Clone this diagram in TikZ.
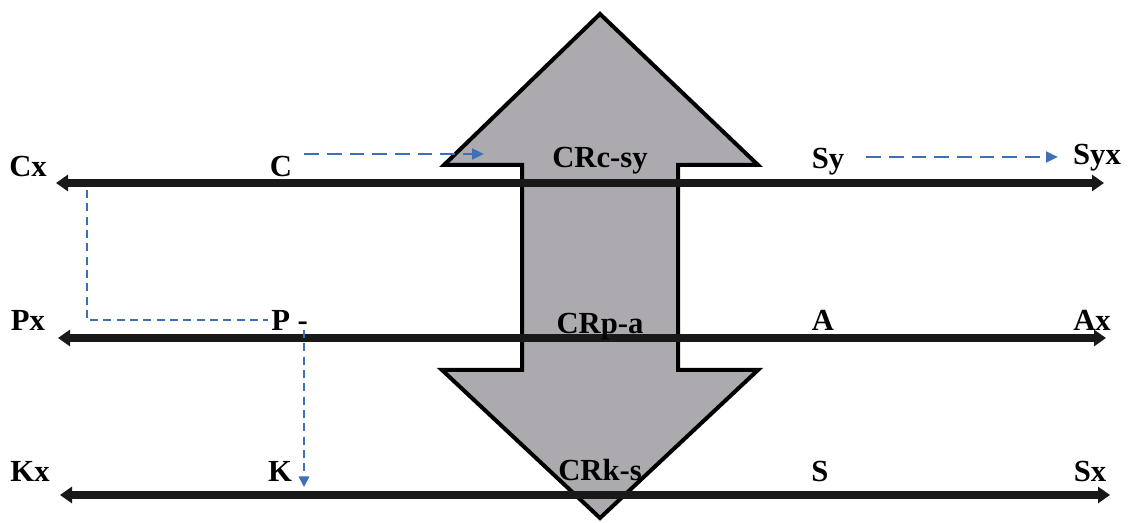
\documentclass[tikz,border=0pt]{standalone}
\usepackage{fontspec}
\setmainfont{Liberation Serif}
\usetikzlibrary{arrows.meta}
\definecolor{crgray}{RGB}{172,170,175}
\definecolor{crblue}{RGB}{62,112,182}

\begin{document}
\begin{tikzpicture}[
    x=0.75pt, y=-0.75pt,
    lbl/.style={font=\fontsize{23}{26}\selectfont\bfseries, inner sep=0pt, anchor=base},
    axis/.style={{Triangle[length=9pt,width=12pt]}-{Triangle[length=9pt,width=12pt]}, line width=6pt, black!90},
    link/.style={-{Triangle[length=9pt,width=8pt]}, crblue, line width=2pt, dash pattern=on 11pt off 6pt},
    guide/.style={crblue, line width=1.3pt, dash pattern=on 6pt off 4pt}
]
\useasboundingbox (0,0) rectangle (1128,523);

% Gray double arrow
\draw[fill=crgray, line width=3pt, line join=miter]
    (600,14) -- (758,165) -- (678,165) -- (678,370) -- (758,370) -- (600,518)
    -- (442,370) -- (522,370) -- (522,165) -- (444,165) -- cycle;

% Line ends
\coordinate (c-l) at (56,183);
\coordinate (c-r) at (1104,183);
\coordinate (p-l) at (58,338);
\coordinate (p-r) at (1106,338);
\coordinate (k-l) at (60,495);
\coordinate (k-r) at (1110,495);

% Lines
\draw[axis] (c-l) -- (c-r);
\draw[axis] (p-l) -- (p-r);
\draw[axis] (k-l) -- (k-r);

% Row 1
\node[lbl] (cx) at (28,177) {Cx};
\node[lbl] (c) at (281,177) {C};
\node[lbl] (crcsy) at (600,168) {CRc-sy};
\node[lbl] (sy) at (828,169) {Sy};
\node[lbl] (syx) at (1097,165) {Syx};

% Row 2
\node[lbl] (px) at (28,331) {Px};
\node[lbl, anchor=base west] (p) at (271,331) {P -};
\node[lbl] (crpa) at (600,334) {CRp-a};
\node[lbl] (a) at (823,331) {A};
\node[lbl] (ax) at (1092,331) {Ax};

% Row 3
\node[lbl] (kx) at (30,482) {Kx};
\node[lbl] (k) at (280,482) {K};
\node[lbl] (crks) at (600,481) {CRk-s};
\node[lbl] (s) at (820,482) {S};
\node[lbl] (sx) at (1090,482) {Sx};

% Dashed links
\coordinate (c-go) at (484,154);
\coordinate (sy-go) at (1058,157);
\coordinate (c-down) at (87,190);
\coordinate (p-down) at (304,330);
\coordinate (k-in) at (304,487);
\draw[link] (c.east |- c-go) ++(12,0) -- (c-go);
\draw[link] (sy.east |- sy-go) ++(22,0) -- (sy-go);
\draw[guide] (c-down) |- ([xshift=-2pt, yshift=8pt]p.base west);
\draw[guide, -{Triangle[length=8pt,width=8pt]}] (p-down) -- (k-in);

\end{tikzpicture}
\end{document}
